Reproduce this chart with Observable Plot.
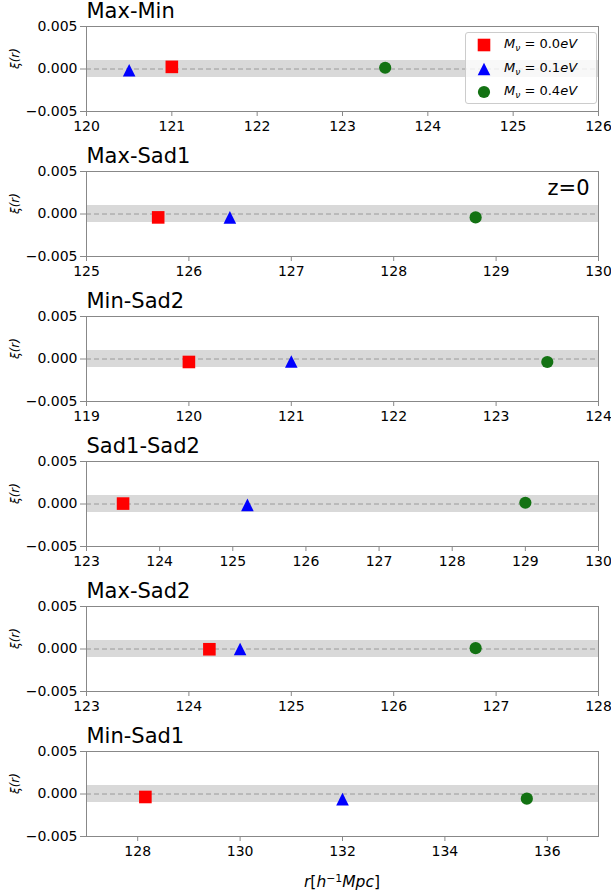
<!DOCTYPE html>
<html>
<head>
<meta charset="utf-8">
<script src="https://cdn.jsdelivr.net/npm/d3@7"></script>
<script src="https://cdn.jsdelivr.net/npm/@observablehq/plot@0.6"></script>
<style>
  body { margin: 0; background: #fff; font-family: "DejaVu Sans", sans-serif; }
  #chart { position: relative; width: 611px; height: 895px; background: #fff; }
  #chart svg { display: block; }
  .legend {
    position: absolute; left: 465px; top: 32px; width: 132px; height: 72px;
    background: rgba(255,255,255,0.8); border: 1px solid #cccccc; border-radius: 3px;
    box-sizing: border-box; font-family: "DejaVu Sans", sans-serif; font-size: 13px; color: #000;
  }
  .legend .row { position: absolute; left: 0; height: 20px; display: flex; align-items: center; }
  .legend svg { display: block; margin-left: 10px; margin-right: 12px; }
  .legend sub { font-size: 0.7em; vertical-align: -0.35em; }
  .xlabel {
    position: absolute; left: 86px; width: 512px; top: 872px; text-align: center;
    font-family: "DejaVu Sans", sans-serif; font-size: 15.5px; color: #000;
  }
  .xlabel sup { font-size: 0.7em; vertical-align: 0.5em; }
</style>
</head>
<body>
<div id="chart"></div>
<script>
// Pair-separation panels (critical-point pairs)
const panelNames = ["Max-Min", "Max-Sad1", "Min-Sad2", "Sad1-Sad2", "Max-Sad2", "Min-Sad1"];
const xDomains = [[120, 126], [125, 130], [119, 124], [123, 130], [123, 128], [127, 137]];
const xTicks = [
  [120, 121, 122, 123, 124, 125, 126],
  [125, 126, 127, 128, 129, 130],
  [119, 120, 121, 122, 123, 124],
  [123, 124, 125, 126, 127, 128, 129, 130],
  [123, 124, 125, 126, 127, 128],
  [128, 130, 132, 134, 136]
];
const yTicks = [-0.005, 0, 0.005];
const bandHalfWidth = 0.001;

// Neutrino masses and peak positions / amplitudes for each panel
const massLabels = ["0.0", "0.1", "0.4"];
const massColors = ["#ff0000", "#0000ff", "#137213"];
const rNu00 = [121.0, 125.7, 120.0, 123.5, 124.2, 128.15];
const xiNu00 = [0.00025, -0.0004, -0.00035, 0.00005, -0.00003, -0.00035];
const rNu01 = [120.5, 126.4, 121.0, 125.2, 124.5, 132.0];
const xiNu01 = [-0.00015, -0.0004, -0.0003, -0.0001, 0.0, -0.0006];
const rNu04 = [123.5, 128.8, 123.5, 129.0, 126.8, 135.6];
const xiNu04 = [0.00015, -0.0004, -0.00035, 0.00015, 0.0001, -0.00055];

// Marker shapes: filled square, upward triangle, circle
const squareSymbol = {draw(ctx, size) { const r = Math.sqrt(size / Math.PI); ctx.rect(-r, -r, 2 * r, 2 * r); }};
const triangleSymbol = {draw(ctx, size) {
  const r = Math.sqrt(size / Math.PI);
  ctx.moveTo(0, -r); ctx.lineTo(r, r); ctx.lineTo(-r, r); ctx.closePath();
}};
const circleSymbol = {draw(ctx, size) { const r = Math.sqrt(size / Math.PI); ctx.moveTo(r, 0); ctx.arc(0, 0, r, 0, 2 * Math.PI); }};

const series = [
  {r: rNu00, xi: xiNu00, symbol: squareSymbol, size: 6.3},
  {r: rNu01, xi: xiNu01, symbol: triangleSymbol, size: 6.3},
  {r: rNu04, xi: xiNu04, symbol: circleSymbol, size: 6.1}
];

const chart = document.getElementById("chart");
const gray = "#888888";

panelNames.forEach((name, i) => {
  const last = i === panelNames.length - 1;
  const marks = [
    Plot.rect([xDomains[i]], {x1: d => d[0], x2: d => d[1], y1: () => -bandHalfWidth, y2: () => bandHalfWidth, fill: "#d9d9d9"}),
    Plot.ruleY([0], {stroke: "#9a9a9a", strokeWidth: 1, strokeDasharray: "5,3"}),
    ...series.map((s, k) => Plot.dot([{r: s.r[i], xi: s.xi[i]}], {
      x: "r", y: "xi", r: s.size, symbol: s.symbol, fill: massColors[k], stroke: "none"
    })),
    Plot.frame({stroke: gray}),
    Plot.axisY({ticks: yTicks, tickFormat: d3.format(".3f"), tickSize: 6, tickPadding: 3, stroke: gray, label: null}),
    Plot.axisX({ticks: xTicks[i], tickFormat: d3.format("d"), tickSize: 5, tickPadding: 5, stroke: gray, label: null}),
    Plot.text([name], {frameAnchor: "top-left", dy: -15, textAnchor: "start", lineAnchor: "middle", fontSize: 21, fill: "#000"}),
    Plot.text(["ξ(r)"], {frameAnchor: "left", dx: -71, rotate: -90, fontSize: 12, fontStyle: "italic", fill: "#000"})
  ];
  if (i === 1) {
    marks.push(Plot.text(["z=0"], {frameAnchor: "top-right", dx: -9, dy: 17, textAnchor: "end", lineAnchor: "middle", fontSize: 21, fill: "#000"}));
  }
  const svg = Plot.plot({
    width: 611,
    height: last ? 170 : 145,
    marginLeft: 86,
    marginRight: 13,
    marginTop: 26,
    marginBottom: last ? 59 : 34,
    x: {domain: xDomains[i]},
    y: {domain: [-0.005, 0.005]},
    style: {fontFamily: "DejaVu Sans, sans-serif", fontSize: "14px", color: "#000", background: "#fff", overflow: "visible"},
    marks
  });
  chart.appendChild(svg);
});

// Legend for the neutrino masses, over the first panel
const legend = document.createElement("div");
legend.className = "legend";
const rowCenters = [12, 36, 59];
series.forEach((s, k) => {
  const row = document.createElement("div");
  row.className = "row";
  row.style.top = (rowCenters[k] - 10) + "px";
  const path = d3.path();
  s.symbol.draw(path, Math.PI * s.size * s.size);
  row.innerHTML =
    `<svg width="16" height="16" viewBox="-8 -8 16 16"><path d="${path}" fill="${massColors[k]}"/></svg>` +
    `<span><i>M</i><sub><i>ν</i></sub> = ${massLabels[k]}<i>eV</i></span>`;
  legend.appendChild(row);
});
chart.appendChild(legend);

// Shared x-axis label
const xlabel = document.createElement("div");
xlabel.className = "xlabel";
xlabel.innerHTML = "<i>r</i>[<i>h</i><sup>−1</sup><i>Mpc</i>]";
chart.appendChild(xlabel);
</script>
</body>
</html>
